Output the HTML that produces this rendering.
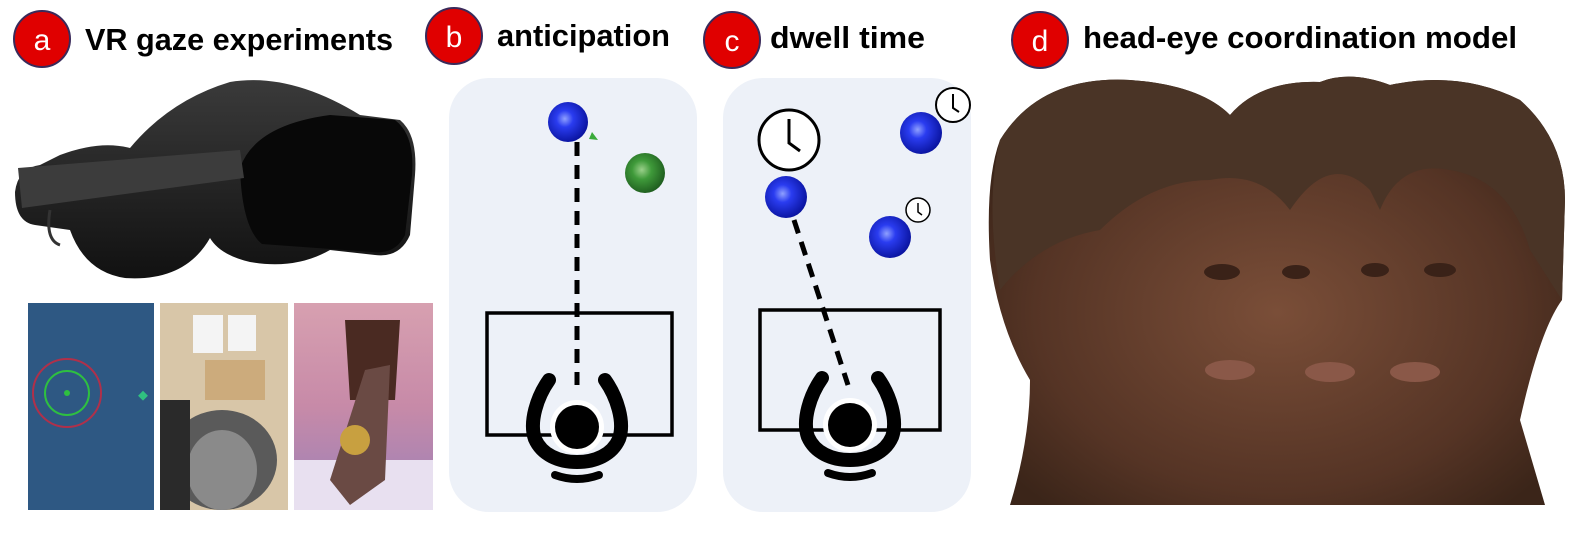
<!DOCTYPE html>
<html><head><meta charset="utf-8"><style>html,body{margin:0;padding:0;background:#fff;overflow:hidden}svg{display:block}</style></head><body>
<svg width="1588" height="533" viewBox="0 0 1588 533" xmlns="http://www.w3.org/2000/svg">
<defs>
<radialGradient id="bl" cx="0.42" cy="0.42" r="0.6"><stop offset="0" stop-color="#8fa0ff"/><stop offset="0.35" stop-color="#2a3cf0"/><stop offset="1" stop-color="#0a14a0"/></radialGradient>
<radialGradient id="gr" cx="0.42" cy="0.42" r="0.6"><stop offset="0" stop-color="#9ad08a"/><stop offset="0.4" stop-color="#3f9a3a"/><stop offset="1" stop-color="#1f5e1f"/></radialGradient>
<radialGradient id="face" cx="0.5" cy="0.55" r="0.6"><stop offset="0" stop-color="#7a4e38"/><stop offset="0.7" stop-color="#553425"/><stop offset="1" stop-color="#3b2519"/></radialGradient>
<linearGradient id="hs" x1="0" y1="0" x2="0" y2="1"><stop offset="0" stop-color="#3a3a3a"/><stop offset="1" stop-color="#111"/></linearGradient>
<linearGradient id="pk" x1="0" y1="0" x2="0" y2="1"><stop offset="0" stop-color="#d7a0b0"/><stop offset="0.5" stop-color="#c78aa8"/><stop offset="1" stop-color="#9a80b8"/></linearGradient>
<symbol id="person" viewBox="-60 -80 120 160">
<path d="M-28,-47 C-40,-30 -48,-5 -42,12 C-35,28 -18,35 0,35 C18,35 35,28 42,12 C48,-5 40,-30 28,-47" fill="none" stroke="#000" stroke-width="14" stroke-linecap="round"/>
<circle cx="0" cy="0" r="27" fill="#fff"/>
<circle cx="0" cy="0" r="22" fill="#000"/>
<path d="M-22,48 Q0,56 22,48" fill="none" stroke="#000" stroke-width="8" stroke-linecap="round"/>
</symbol>
</defs>
<g font-family="'Liberation Sans',sans-serif" font-weight="bold" fill="#000">
<circle cx="42" cy="39" r="28" fill="#e00000" stroke="#3a2a5a" stroke-width="2"/><text x="42" y="50" font-size="30" font-weight="normal" fill="#fff" text-anchor="middle">a</text>
<text x="85" y="50" font-size="31" textLength="308" lengthAdjust="spacingAndGlyphs">VR gaze experiments</text>
<circle cx="454" cy="36" r="28" fill="#e00000" stroke="#3a2a5a" stroke-width="2"/><text x="454" y="47" font-size="30" font-weight="normal" fill="#fff" text-anchor="middle">b</text>
<text x="497" y="46" font-size="31" textLength="173" lengthAdjust="spacingAndGlyphs">anticipation</text>
<circle cx="732" cy="40" r="28" fill="#e00000" stroke="#3a2a5a" stroke-width="2"/><text x="732" y="51" font-size="30" font-weight="normal" fill="#fff" text-anchor="middle">c</text>
<text x="770" y="48" font-size="31" textLength="155" lengthAdjust="spacingAndGlyphs">dwell time</text>
<circle cx="1040" cy="40" r="28" fill="#e00000" stroke="#3a2a5a" stroke-width="2"/><text x="1040" y="51" font-size="30" font-weight="normal" fill="#fff" text-anchor="middle">d</text>
<text x="1083" y="48" font-size="31" textLength="434" lengthAdjust="spacingAndGlyphs">head-eye coordination model</text>
</g>
<!-- headset -->
<path d="M60,155 Q100,140 130,148 Q170,100 230,82 Q290,72 360,115 L400,120 Q418,135 415,175 L410,235 Q400,258 375,255 L330,250 Q295,270 250,262 Q220,255 210,238 Q185,282 125,278 Q85,272 70,230 L35,225 Q15,222 15,192 Q18,168 40,165 Z" fill="url(#hs)"/>
<path d="M240,168 Q255,125 330,115 L395,120 Q415,135 412,175 L405,235 Q395,255 372,252 L262,244 Q242,228 240,168Z" fill="#080808"/>
<path d="M18,168 L240,150 L244,178 L22,208 Z" fill="#3c3c3c"/>
<path d="M50,210 Q45,240 60,245" fill="none" stroke="#333" stroke-width="3"/>
<!-- photos -->
<rect x="28" y="303" width="126" height="207" fill="#2e5883"/>
<circle cx="67" cy="393" r="34" fill="none" stroke="#b0304a" stroke-width="2"/>
<circle cx="67" cy="393" r="22" fill="none" stroke="#2ec040" stroke-width="2"/>
<circle cx="67" cy="393" r="3" fill="#2ec040"/>
<rect x="140" y="392" width="7" height="7" fill="#30c080" transform="rotate(45 143 395)"/>
<rect x="160" y="303" width="128" height="207" fill="#d8c6a8"/>
<rect x="193" y="315" width="30" height="38" fill="#f4f4f4"/><rect x="228" y="315" width="28" height="36" fill="#f4f4f4"/>
<rect x="205" y="360" width="60" height="40" fill="#c8a06a" opacity="0.7"/>
<ellipse cx="222" cy="460" rx="55" ry="50" fill="#5a5a5a"/><ellipse cx="222" cy="470" rx="35" ry="40" fill="#8a8a8a"/>
<rect x="160" y="400" width="30" height="110" fill="#2a2a2a"/>
<rect x="294" y="303" width="139" height="207" fill="url(#pk)"/>
<rect x="294" y="460" width="139" height="50" fill="#e8e0f0"/>
<path d="M345,320 L400,320 L395,400 L350,400Z" fill="#4a2a22"/>
<path d="M365,370 L390,365 L385,480 L350,505 L330,480Z" fill="#6a4a44"/>
<circle cx="355" cy="440" r="15" fill="#c8a040"/>
<!-- panel b -->
<rect x="449" y="78" width="248" height="434" rx="40" fill="#edf1f8"/>
<line x1="577" y1="142" x2="577" y2="385" stroke="#000" stroke-width="5" stroke-dasharray="14,9"/>
<rect x="487" y="313" width="185" height="122" fill="none" stroke="#000" stroke-width="3.5"/>
<use href="#person" x="517" y="347" width="120" height="160"/>
<circle cx="568" cy="122" r="20" fill="url(#bl)"/>
<path d="M589,139 L598,140 L592,132Z" fill="#3aaa3a"/>
<circle cx="645" cy="173" r="20" fill="url(#gr)"/>
<!-- panel c -->
<rect x="723" y="78" width="248" height="434" rx="40" fill="#edf1f8"/>
<line x1="794" y1="220" x2="848" y2="385" stroke="#000" stroke-width="5" stroke-dasharray="14,9"/>
<rect x="760" y="310" width="180" height="120" fill="none" stroke="#000" stroke-width="3.5"/>
<use href="#person" x="790" y="345" width="120" height="160"/>
<g fill="#fff" stroke="#000">
<circle cx="789" cy="140" r="30" stroke-width="3"/><path d="M789,119 V143 L800,151" fill="none" stroke-width="3"/>
<circle cx="953" cy="105" r="17" stroke-width="2"/><path d="M953,94 V108 L959,112" fill="none" stroke-width="2"/>
<circle cx="918" cy="210" r="12" stroke-width="1.5"/><path d="M918,203 V212 L922,215" fill="none" stroke-width="1.5"/>
</g>
<circle cx="786" cy="197" r="21" fill="url(#bl)"/>
<circle cx="921" cy="133" r="21" fill="url(#bl)"/>
<circle cx="890" cy="237" r="21" fill="url(#bl)"/>
<!-- faces -->
<path d="M1000,140 Q1040,75 1130,80 Q1200,85 1230,115 Q1260,80 1320,82 Q1350,70 1390,85 Q1460,70 1520,100 Q1565,140 1565,200 L1562,300 Q1540,330 1520,420 L1545,505 L1010,505 Q1030,440 1030,380 Q1000,330 990,260 Q985,180 1000,140Z" fill="url(#face)"/>
<path d="M1000,140 Q1040,75 1130,80 Q1200,85 1230,115 Q1260,80 1320,82 Q1350,70 1390,85 Q1460,70 1520,100 Q1565,140 1565,200 L1562,300 L1530,250 Q1510,180 1450,170 Q1400,160 1380,210 L1370,190 Q1330,150 1290,210 Q1260,170 1210,180 Q1150,180 1100,230 Q1040,240 1000,290 Q985,200 1000,140Z" fill="#4a3426"/>
<ellipse cx="1222" cy="272" rx="18" ry="8" fill="#3a2218"/><ellipse cx="1296" cy="272" rx="14" ry="7" fill="#3a2218"/><ellipse cx="1375" cy="270" rx="14" ry="7" fill="#3a2218"/><ellipse cx="1440" cy="270" rx="16" ry="7" fill="#3a2218"/>
<ellipse cx="1230" cy="370" rx="25" ry="10" fill="#8a5848"/><ellipse cx="1330" cy="372" rx="25" ry="10" fill="#8a5848"/><ellipse cx="1415" cy="372" rx="25" ry="10" fill="#8a5848"/>
</svg>
</body></html>
